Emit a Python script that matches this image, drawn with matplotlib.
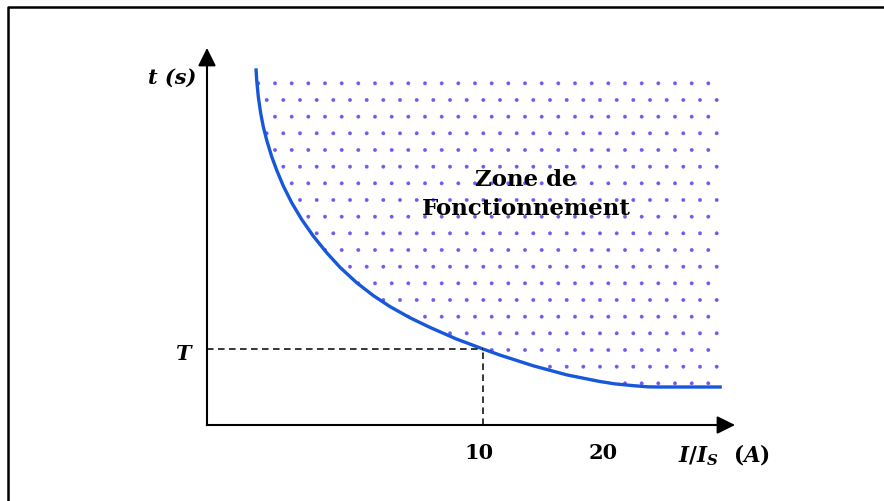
import matplotlib
matplotlib.use("Agg")
import matplotlib.pyplot as plt
from matplotlib.lines import Line2D

# courbe de déclenchement (unités du schéma : x = I/Is, y = t, T = 1)
curve_x = [1.775, 1.801, 1.859, 1.946, 2.040, 2.163, 2.344, 2.525, 2.764, 3.069,
           3.431, 3.851, 4.337, 4.819, 5.424, 6.025, 6.630, 7.355, 8.080, 9.022,
           10.0, 10.616, 11.812, 13.043, 14.239, 14.783, 15.435, 15.978, 16.413,
           18.652]
curve_y = [4.693, 4.539, 4.320, 4.101, 3.924, 3.749, 3.532, 3.354, 3.146, 2.925,
           2.705, 2.486, 2.267, 2.075, 1.872, 1.703, 1.558, 1.411, 1.284, 1.134,
           1.0, 0.920, 0.780, 0.659, 0.572, 0.541, 0.518, 0.502, 0.500,
           0.500]
zone_top = 4.68

# point de lecture
I_ref = 10.0
T_ref = 1.0

# étiquettes de l'axe x
xtick_pos = [9.86, 14.35]
xtick_labels = ["10", "20"]

plt.rcParams["mathtext.fontset"] = "custom"
plt.rcParams["mathtext.rm"] = "DejaVu Serif:bold"
plt.rcParams["mathtext.it"] = "DejaVu Serif:italic:bold"
plt.rcParams["hatch.linewidth"] = 0.3

fig = plt.figure(figsize=(8.84, 5.01), dpi=100)
ax = fig.add_axes([0, 0, 1, 1])
ax.axis("off")
ax.set_xlim(-7.5, 24.53)
ax.set_ylim(-1.0, 5.592)

# zone de fonctionnement (pointillés)
ax.fill_between(curve_x, curve_y, zone_top, facecolor="none", edgecolor="#6a5af2",
                linewidth=0, hatch=".")
ax.plot(curve_x, curve_y, color="#1757da", lw=2.4, solid_capstyle="butt",
        solid_joinstyle="round")

# lignes de lecture
ax.plot([0, I_ref], [T_ref, T_ref], color="black", lw=1.1, ls=(0, (4.3, 2.9)))
ax.plot([I_ref, I_ref], [0, T_ref], color="black", lw=1.1, ls=(0, (4.3, 2.9)))

# axes avec flèches
arrow = dict(arrowstyle="-|>", color="black", lw=1.5, mutation_scale=27,
             shrinkA=0, shrinkB=0, capstyle="projecting")
ax.annotate("", xy=(19.13, 0), xytext=(0, 0), arrowprops=arrow)
ax.annotate("", xy=(0, 4.96), xytext=(0, 0), arrowprops=arrow)

serif = "DejaVu Serif"
ax.text(-0.4, 4.566, "t (s)", ha="right", va="center", family=serif,
        weight="bold", style="italic", fontsize=15)
ax.text(-0.6, 0.93, "T", ha="right", va="center", family=serif,
        weight="bold", style="italic", fontsize=15)
for pos, lab in zip(xtick_pos, xtick_labels):
    ax.text(pos, -0.37, lab, ha="center", va="center", family=serif,
            weight="bold", fontsize=15)
ax.text(17.05, -0.4, r"$I/I_S\ \ (A)$", ha="left", va="center", fontsize=15.5)

ax.text(11.56, 3.03, "Zone de\nFonctionnement", ha="center", va="center",
        family=serif, weight="bold", fontsize=16.5, linespacing=1.4)

# cadre (haut et gauche seulement)
fig.add_artist(Line2D([0.0094, 0.0094, 1.0], [0.0, 0.987, 0.987],
                      transform=fig.transFigure, color="black", lw=1.8))

fig.savefig("out.png", dpi=100)
